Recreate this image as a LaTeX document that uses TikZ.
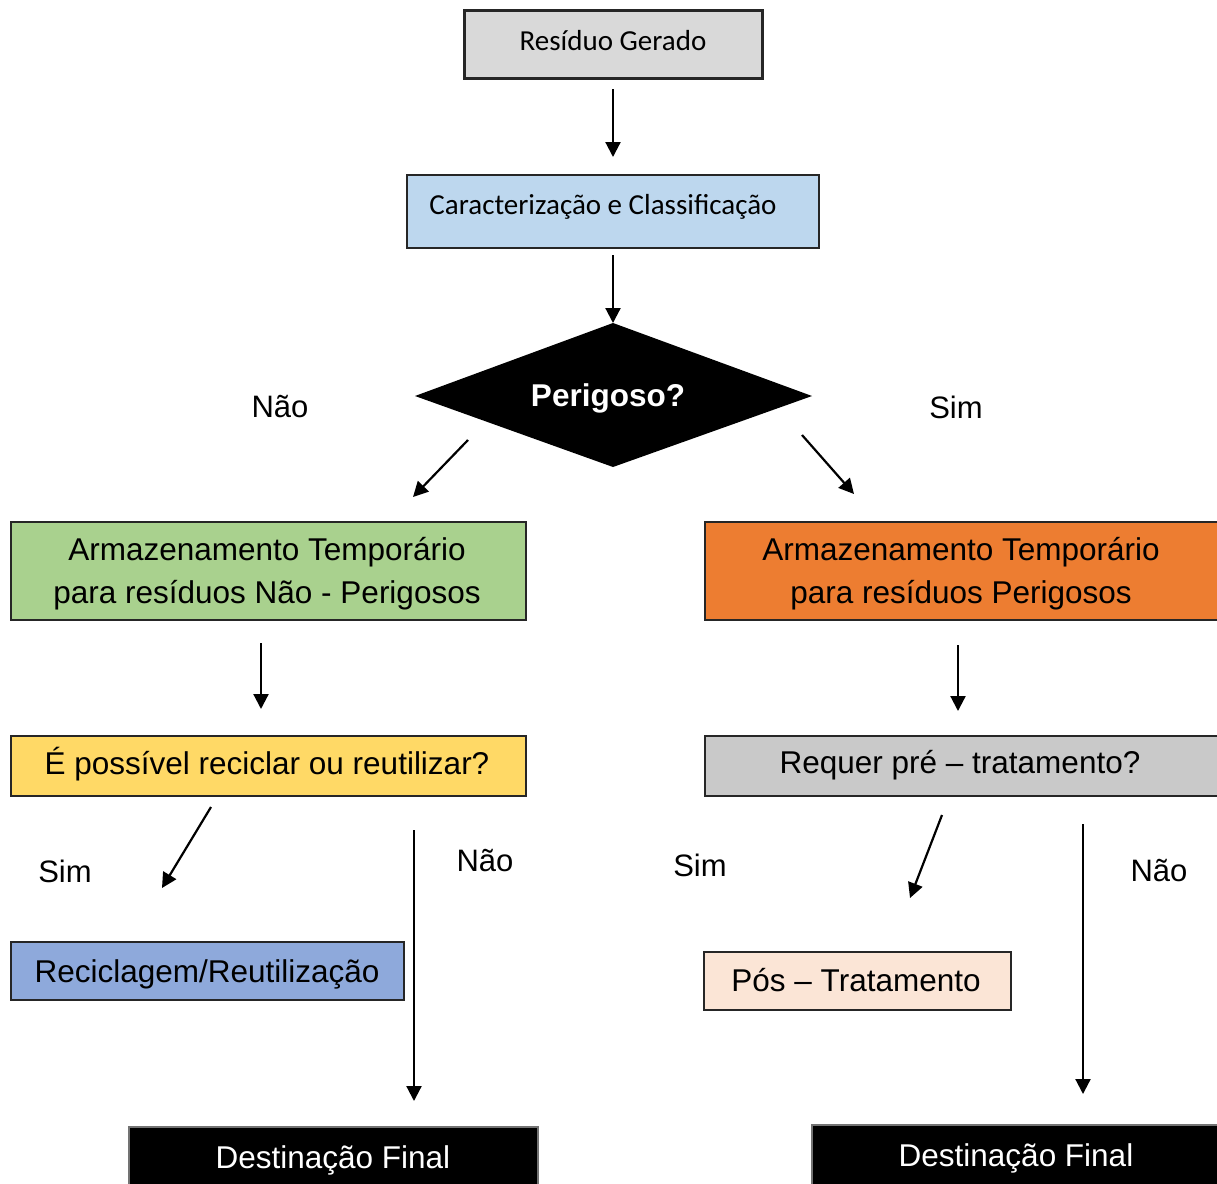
\documentclass[tikz,border=0pt]{standalone}
\usepackage{fontspec}
\setmainfont{Liberation Sans}
\newfontfamily\calib{Carlito}
\usetikzlibrary{arrows.meta}
\definecolor{grayA}{HTML}{D9D9D9}
\definecolor{blueA}{HTML}{BDD7EE}
\definecolor{greenA}{HTML}{A9D18E}
\definecolor{orangeA}{HTML}{ED7D31}
\definecolor{yellowA}{HTML}{FFD966}
\definecolor{grayB}{HTML}{C9C9C9}
\definecolor{blueB}{HTML}{8EA9DB}
\definecolor{peachA}{HTML}{FBE5D6}
\begin{document}
\begin{tikzpicture}[x=1pt,y=-1pt,
  box/.style={draw=black!85,line width=1.5pt,anchor=north west,inner sep=0pt},
  dbox/.style={fill=black,draw=black!55,line width=1.5pt,anchor=north west,inner sep=0pt},
  txt/.style={inner sep=0pt,align=center,font=\fontsize{31.5}{43}\selectfont},
  ctext/.style={inner sep=0pt,font=\calib\fontsize{29}{35}\selectfont},
  lbl/.style={inner sep=0pt,font=\fontsize{31}{40}\selectfont},
  arr/.style={line width=2.2pt,-{Triangle[length=15pt,width=15pt]}}
]
\useasboundingbox (0,0) rectangle (1217,1183);

% top boxes
\node[box,fill=grayA,line width=2.5pt,minimum width=298pt,minimum height=68pt] (res) at (463,9) {};
\node[ctext] (rest) at (613,41) {Resíduo Gerado};
\node[box,fill=blueA,minimum width=412pt,minimum height=73pt] (car) at (406,174) {};
\node[ctext] (cart) at (603,207) {Caracterização e Classificação};

% diamond
\path[fill=black] (613,323) -- (812,396) -- (613,467) -- (415,396) -- cycle;
\node[inner sep=0pt,text=white,font=\bfseries\fontsize{31.5}{40}\selectfont] (per) at (608,398) {Perigoso?};
\coordinate (dtop) at (613,323);

\node[lbl] (nao1) at (280,407) {Não};
\node[lbl] (sim1) at (956,407) {Sim};

% second level
\node[box,fill=greenA,minimum width=515pt,minimum height=98pt] (grn) at (10,521) {};
\node[txt] (grnt) at (267,573.5) {Armazenamento Temporário\\para resíduos Não - Perigosos};
\node[box,fill=orangeA,minimum width=513pt,minimum height=98pt] (org) at (704,521) {};
\node[txt] (orgt) at (961,573.5) {Armazenamento Temporário\\para resíduos Perigosos};

\node[box,fill=yellowA,minimum width=515pt,minimum height=60pt] (yel) at (10,735) {};
\node[txt] (yelt) at (267,764) {É possível reciclar ou reutilizar?};
\node[box,fill=grayB,minimum width=513pt,minimum height=60pt] (req) at (704,735) {};
\node[txt] (reqt) at (960,765) {Requer pré – tratamento?};

\node[lbl] (sim2) at (65,871) {Sim};
\node[lbl] (nao2) at (485,861) {Não};
\node[lbl] (sim3) at (700,865) {Sim};
\node[lbl] (nao3) at (1159,871) {Não};

\node[box,fill=blueB,minimum width=393pt,minimum height=58pt] (rec) at (10,941) {};
\node[txt] (rect) at (207,974) {Reciclagem/Reutilização};
\node[box,fill=peachA,minimum width=307pt,minimum height=58pt] (pos) at (703,951) {};
\node[txt] (post) at (856,980) {Pós – Tratamento};

\node[dbox,minimum width=409pt,minimum height=62pt] (dfl) at (128,1126) {};
\node[txt,text=white] (dflt) at (333,1160) {Destinação Final};
\node[dbox,minimum width=406pt,minimum height=64pt] (dfr) at (811,1124) {};
\node[txt,text=white] (dfrt) at (1016,1158) {Destinação Final};

% connector endpoints
\coordinate (a1s) at (613,89);   \coordinate (a1e) at (613,157);
\coordinate (a2s) at (613,255);
\coordinate (a3s) at (468,440);  \coordinate (a3e) at (413,497);
\coordinate (a4s) at (802,435);  \coordinate (a4e) at (854,494);
\coordinate (a5s) at (261,643);  \coordinate (a5e) at (261,709);
\coordinate (a6s) at (958,645);  \coordinate (a6e) at (958,711);
\coordinate (a7s) at (211,807);  \coordinate (a7e) at (162,888);
\coordinate (a8s) at (414,830);  \coordinate (a8e) at (414,1101);
\coordinate (a9s) at (942,815);  \coordinate (a9e) at (910,898);
\coordinate (a10s) at (1083,824); \coordinate (a10e) at (1083,1094);

\draw[arr] (a1s) -- (a1e);
\draw[arr] (a2s) -- (dtop);
\draw[arr] (a3s) -- (a3e);
\draw[arr] (a4s) -- (a4e);
\draw[arr] (a5s) -- (a5e);
\draw[arr] (a6s) -- (a6e);
\draw[arr] (a7s) -- (a7e);
\draw[arr] (a8s) -- (a8e);
\draw[arr] (a9s) -- (a9e);
\draw[arr] (a10s) -- (a10e);
\end{tikzpicture}
\end{document}
